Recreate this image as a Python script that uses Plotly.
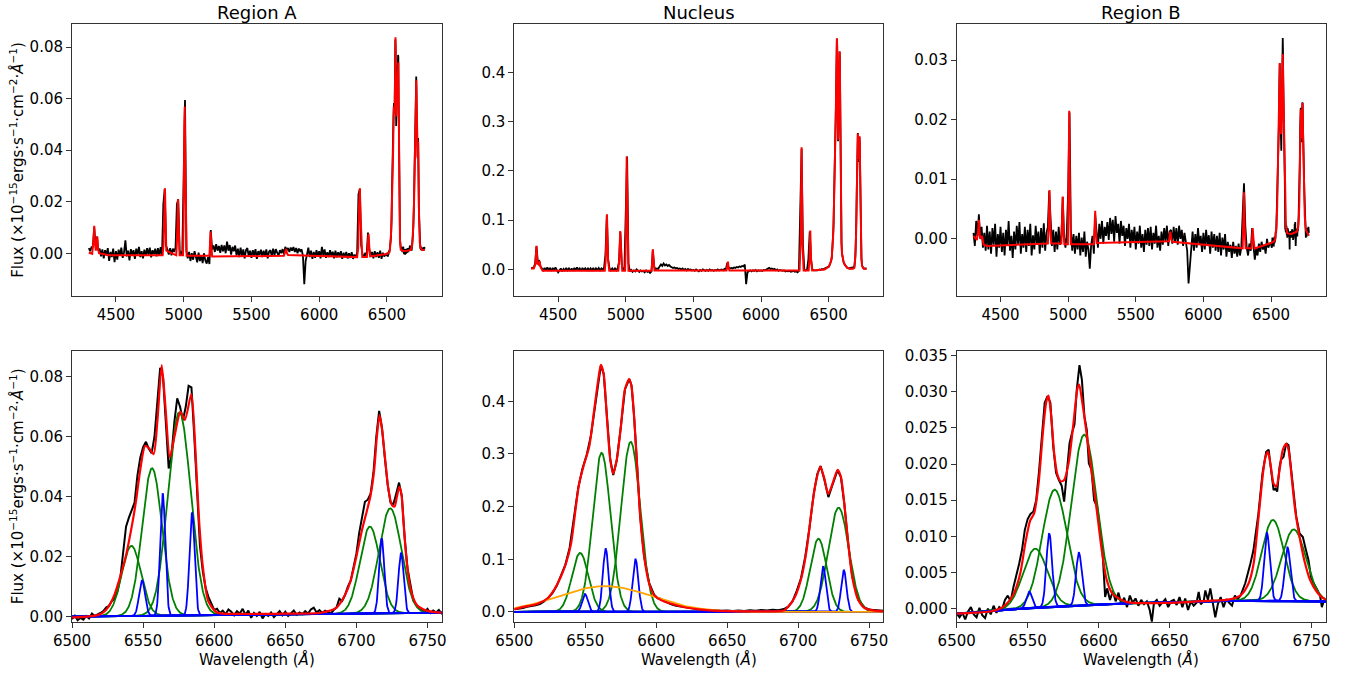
import numpy as np
import plotly.graph_objects as go

FONT = "DejaVu Sans"

# ================= DATA =================
# Top panels: observed spectra sampled every 10 A from 4300 A (values in 1e-15 erg/s/cm2/A)
A_top_obs = [
    0.0020, 0.0008, 0.0024, 0.0025, 0.0100, 0.0030, 0.0065, 0.0010, 0.0018, -0.0012,
    0.0015, -0.0020, 0.0012, -0.0008, 0.0020, -0.0030, 0.0005, -0.0015, 0.0018, -0.0035,
    0.0008, -0.0025, 0.0014, -0.0010, 0.0022, -0.0018, 0.0004, 0.0050, -0.0012, 0.0010,
    -0.0028, 0.0016, -0.0008, 0.0012, -0.0022, 0.0018, -0.0005, 0.0025, -0.0015, 0.0008,
    -0.0020, 0.0014, -0.0010, 0.0020, -0.0006, 0.0022, -0.0016, 0.0012, -0.0004, 0.0018,
    -0.0012, 0.0020, -0.0008, 0.0024, -0.0010, 0.0190, 0.0250, 0.0030, 0.0015, -0.0005,
    0.0020, -0.0008, 0.0018, 0.0005, 0.0022, 0.0190, 0.0210, 0.0015, -0.0010, 0.0010,
    0.0300, 0.0595, 0.0010, -0.0020, 0.0005, -0.0030, 0.0000, -0.0025, 0.0008, -0.0018,
    -0.0035, 0.0002, -0.0030, -0.0010, -0.0038, 0.0000, -0.0028, -0.0040, -0.0015, -0.0042,
    0.0090, 0.0015, 0.0030, 0.0005, 0.0035, 0.0010, 0.0028, 0.0002, 0.0032, 0.0008,
    0.0030, 0.0000, 0.0045, 0.0010, 0.0032, -0.0005, 0.0025, 0.0008, 0.0030, -0.0008,
    0.0018, -0.0015, 0.0022, -0.0010, 0.0015, -0.0020, 0.0012, 0.0020, -0.0012, 0.0010,
    -0.0018, 0.0012, -0.0008, 0.0016, -0.0022, 0.0008, -0.0006, 0.0014, -0.0015, 0.0010,
    -0.0010, 0.0015, -0.0020, 0.0006, 0.0012, -0.0012, 0.0018, -0.0008, 0.0016, 0.0002,
    -0.0010, 0.0012, 0.0000, 0.0016, -0.0004, 0.0025, 0.0012, 0.0020, 0.0005, 0.0022,
    0.0010, 0.0024, 0.0005, 0.0020, 0.0000, 0.0018, 0.0008, 0.0015, -0.0010, -0.0120,
    -0.0030, -0.0005, 0.0022, -0.0015, 0.0010, -0.0022, 0.0005, -0.0018, 0.0012, -0.0012,
    0.0008, -0.0020, 0.0025, -0.0008, 0.0015, -0.0018, 0.0004, -0.0015, 0.0012, -0.0010,
    0.0006, -0.0020, 0.0010, -0.0016, 0.0004, -0.0012, 0.0008, -0.0022, 0.0002, -0.0015,
    0.0005, -0.0020, 0.0000, -0.0018, 0.0004, -0.0022, -0.0005, -0.0016, 0.0002, 0.0230,
    0.0250, 0.0030, -0.0005, -0.0015, 0.0002, -0.0010, 0.0080, 0.0015, -0.0012, 0.0005,
    -0.0020, 0.0008, -0.0015, 0.0004, -0.0018, 0.0010, -0.0022, 0.0002, -0.0012, -0.0005,
]
N_top_obs = [
    0.002, 0.003, 0.004, 0.012, 0.047, 0.015, 0.017, 0.006, 0.001, -0.002,
    0.003, -0.002, 0.004, -0.001, 0.002, -0.003, 0.003, -0.002, 0.004, -0.003,
    -0.006, -0.002, 0.002, -0.004, 0.001, -0.003, 0.003, -0.002, 0.002, -0.003,
    0.002, -0.003, 0.003, -0.001, 0.004, -0.002, 0.002, -0.003, 0.003, -0.001,
    0.002, -0.003, 0.003, -0.002, 0.002, -0.002, 0.003, -0.003, 0.002, -0.001,
    0.003, -0.002, 0.002, -0.001, 0.004, 0.030, 0.110, 0.020, 0.002, -0.002,
    0.002, -0.003, 0.003, -0.002, 0.002, 0.015, 0.076, 0.010, -0.002, 0.001,
    0.120, 0.229, 0.012, -0.004, -0.001, -0.005, -0.002, -0.004, 0.000, -0.003,
    -0.005, -0.002, -0.004, -0.003, -0.006, -0.002, -0.005, -0.004, -0.007, -0.004,
    0.038, 0.006, 0.000, 0.002, 0.001, 0.006, 0.010, 0.007, 0.012, 0.008,
    0.010, 0.007, 0.009, 0.006, 0.004, 0.003, 0.004, 0.002, 0.003, 0.001,
    0.002, 0.000, 0.002, -0.001, 0.001, -0.002, 0.001, -0.001, 0.000, -0.002,
    -0.001, -0.003, 0.000, -0.002, -0.004, -0.001, -0.003, 0.000, -0.002, -0.003,
    -0.001, -0.003, 0.000, -0.002, -0.001, -0.003, -0.001, -0.002, 0.000, -0.002,
    -0.001, 0.000, -0.002, 0.001, 0.000, 0.013, 0.004, 0.002, 0.003, 0.002,
    0.004, 0.003, 0.005, 0.004, 0.006, 0.005, 0.007, 0.006, 0.010, -0.030,
    -0.006, -0.003, -0.002, -0.004, -0.002, -0.003, -0.001, -0.004, -0.002, -0.003,
    -0.002, -0.003, -0.001, -0.002, 0.000, 0.002, 0.003, 0.001, 0.002, 0.000,
    0.001, -0.002, 0.000, -0.003, -0.001, -0.002, -0.003, -0.002, -0.004, -0.003,
    -0.004, -0.003, -0.005, -0.004, -0.003, -0.005, -0.004, -0.006, -0.003, 0.120,
    0.245, 0.050, 0.000, -0.002, -0.001, 0.020, 0.077, 0.020, -0.001, -0.002,
    -0.002, -0.001, -0.002, 0.000, -0.001, 0.001, 0.000, 0.002, 0.003, 0.004,
]
B_top_obs = [
    0.0010, -0.0012, 0.0030, 0.0005, 0.0041, 0.0000, 0.0020, -0.0015, 0.0010, -0.0020,
    0.0022, -0.0018, 0.0012, -0.0025, 0.0018, -0.0010, 0.0025, -0.0030, 0.0008, -0.0015,
    0.0020, -0.0022, 0.0010, -0.0028, 0.0015, -0.0012, 0.0030, -0.0020, 0.0005, -0.0032,
    0.0012, -0.0018, 0.0022, -0.0010, 0.0028, -0.0025, 0.0008, -0.0015, 0.0020, -0.0022,
    0.0015, -0.0012, 0.0025, -0.0028, 0.0006, -0.0018, 0.0022, -0.0010, 0.0012, -0.0025,
    0.0018, -0.0015, 0.0026, -0.0020, 0.0010, 0.0020, 0.0080, 0.0040, -0.0012, 0.0015,
    -0.0022, 0.0012, -0.0018, 0.0020, -0.0010, 0.0005, 0.0070, 0.0002, -0.0015, 0.0010,
    0.0080, 0.0212, 0.0015, -0.0020, 0.0008, -0.0025, 0.0005, -0.0018, 0.0010, -0.0028,
    0.0002, -0.0022, 0.0012, -0.0030, -0.0005, -0.0018, -0.0050, -0.0010, 0.0005, -0.0025,
    0.0040, 0.0012, -0.0015, 0.0025, 0.0000, 0.0030, -0.0008, 0.0020, 0.0005, 0.0028,
    -0.0002, 0.0035, 0.0008, 0.0032, -0.0005, 0.0038, 0.0010, 0.0025, -0.0008, 0.0030,
    0.0005, 0.0022, -0.0012, 0.0018, 0.0000, 0.0025, -0.0015, 0.0015, -0.0005, 0.0020,
    -0.0018, 0.0012, -0.0008, 0.0022, -0.0015, 0.0008, -0.0022, 0.0015, -0.0010, 0.0018,
    -0.0012, 0.0020, -0.0018, 0.0010, -0.0008, 0.0022, -0.0015, 0.0005, -0.0020, 0.0012,
    -0.0010, 0.0018, -0.0005, 0.0022, -0.0012, 0.0012, 0.0015, -0.0008, 0.0020, -0.0005,
    0.0018, -0.0010, 0.0022, 0.0000, 0.0015, -0.0012, 0.0010, -0.0005, -0.0020, -0.0075,
    -0.0040, -0.0012, 0.0012, -0.0020, 0.0008, -0.0015, 0.0018, -0.0010, 0.0005, -0.0022,
    0.0010, -0.0018, 0.0015, -0.0012, 0.0006, -0.0025, 0.0012, -0.0015, 0.0008, -0.0020,
    0.0005, -0.0022, 0.0010, -0.0028, 0.0002, -0.0018, 0.0008, -0.0030, -0.0005, -0.0022,
    -0.0010, -0.0032, -0.0005, -0.0025, -0.0012, -0.0030, -0.0008, -0.0028, -0.0015, 0.0040,
    0.0093, 0.0020, -0.0015, -0.0028, -0.0008, -0.0020, 0.0018, -0.0012, -0.0035, -0.0015,
    -0.0028, -0.0008, -0.0022, -0.0005, -0.0018, -0.0010, -0.0025, 0.0000, -0.0015, -0.0008,
]

# Top panels: fitted model (blue side of the spectrum, 4300-6480 A)
A_top_fit_wl = [4300, 4325, 4333, 4340, 4347, 4352, 4358, 4363, 4368, 4375, 4450, 4845, 4852, 4858,
                4862, 4866, 4872, 4945, 4952, 4958, 4964, 4970, 4995, 5000, 5005, 5008, 5012, 5018,
                5022, 5190, 5194, 5199, 5203, 5207, 5210, 5740, 5750, 5756, 5762, 5770, 6280, 6288,
                6294, 6300, 6305, 6312, 6318, 6352, 6358, 6364, 6370, 6376]
A_top_fit = [0.0003, -0.0002, 0.0040, 0.0107, 0.0030, 0.0010, 0.0040, 0.0065, 0.0020, 0.0000,
             -0.0008, -0.0008, 0.0040, 0.0180, 0.0252, 0.0150, 0.0010, -0.0008, 0.0060, 0.0210,
             0.0060, -0.0008, -0.0008, 0.0150, 0.0500, 0.0570, 0.0350, 0.0020, -0.0010, -0.0010,
             0.0040, 0.0084, 0.0040, -0.0013, -0.0013, -0.0010, 0.0008, 0.0017, 0.0000, -0.0007,
             -0.0015, 0.0020, 0.0180, 0.0252, 0.0150, 0.0010, -0.0015, -0.0015, 0.0030, 0.0075,
             0.0020, -0.0012]
N_top_fit_wl = [4300, 4320, 4332, 4340, 4347, 4355, 4363, 4370, 4385, 4845, 4852, 4861, 4869, 4878,
                4945, 4952, 4959, 4966, 4974, 4995, 5001, 5007, 5013, 5020, 5190, 5195, 5200, 5205,
                5212, 5745, 5750, 5755, 5760, 5766, 6285, 6292, 6300, 6307, 6315, 6352, 6358, 6364,
                6370, 6378, 6470]
N_top_fit = [0.002, 0.002, 0.010, 0.048, 0.012, 0.010, 0.017, 0.005, -0.003, -0.003, 0.020, 0.112,
             0.020, -0.003, -0.003, 0.020, 0.078, 0.020, -0.003, -0.003, 0.060, 0.229, 0.060, -0.003,
             -0.003, 0.010, 0.041, 0.010, -0.002, -0.002, 0.004, 0.0156, 0.004, -0.002, -0.002, 0.050,
             0.248, 0.050, -0.002, -0.002, 0.020, 0.079, 0.020, -0.002, 0.000]
B_top_fit_wl = [4300, 4325, 4333, 4340, 4347, 4355, 4363, 4375, 4400, 4850, 4856, 4862, 4868, 4875,
                4950, 4955, 4960, 4966, 4972, 4998, 5003, 5008, 5013, 5020, 5190, 5195, 5200, 5205,
                5212, 5745, 5750, 5756, 5762, 5770, 6290, 6295, 6300, 6305, 6312, 6355, 6360, 6364,
                6370, 6378]
B_top_fit = [0.0005, -0.0002, 0.0010, 0.0032, 0.0005, 0.0000, 0.0005, -0.0010, -0.0012, -0.0008,
             0.0020, 0.0082, 0.0020, -0.0008, -0.0008, 0.0020, 0.0071, 0.0010, -0.0009, -0.0009,
             0.0080, 0.0215, 0.0080, -0.0009, -0.0009, 0.0010, 0.0047, 0.0010, -0.0007, -0.0004,
             0.0003, 0.0012, 0.0000, -0.0005, -0.0016, 0.0020, 0.0078, 0.0020, -0.0016, -0.0016,
             0.0000, 0.0018, 0.0000, -0.0016]

# H-alpha / [NII] / [SII] window: observed spectra
A_obs = [  # 2 A grid starting at 6500 A
    -0.0008, 0.0003, -0.0012, -0.0004, -0.0010, 0.0002, -0.0006, 0.0010, 0.0002, 0.0006,
    0.0012, 0.0018, 0.0030, 0.0036, 0.0052, 0.0060, 0.0085, 0.0130, 0.0210, 0.0300,
    0.0330, 0.0355, 0.0380, 0.0470, 0.0530, 0.0565, 0.0583, 0.0560, 0.0545, 0.0600,
    0.0720, 0.0830, 0.0800, 0.0640, 0.0494, 0.0540, 0.0650, 0.0728, 0.0700, 0.0655,
    0.0700, 0.0770, 0.0765, 0.0600, 0.0400, 0.0235, 0.0150, 0.0095, 0.0065, 0.0042,
    0.0022, 0.0026, 0.0012, 0.0020, 0.0008, 0.0024, 0.0016, 0.0004, 0.0018, 0.0010,
    0.0026, 0.0006, 0.0020, -0.0004, 0.0012, 0.0002, 0.0016, -0.0006, 0.0008, 0.0002,
    0.0014, -0.0002, 0.0010, 0.0018, 0.0004, 0.0016, 0.0002, 0.0012, 0.0020, 0.0006,
    0.0014, 0.0008, 0.0018, 0.0010, 0.0024, 0.0030, 0.0014, 0.0022, 0.0012, 0.0020,
    0.0016, 0.0010, 0.0022, 0.0030, 0.0060, 0.0052, 0.0072, 0.0100, 0.0120, 0.0160,
    0.0210, 0.0280, 0.0330, 0.0383, 0.0390, 0.0410, 0.0480, 0.0600, 0.0686, 0.0630,
    0.0530, 0.0440, 0.0380, 0.0375, 0.0410, 0.0447, 0.0400, 0.0260, 0.0160, 0.0100,
    0.0055, 0.0040, 0.0028, 0.0022, 0.0016, 0.0026, 0.0012, 0.0020, 0.0014, 0.0022,
    0.0010, 0.0018, 0.0012, 0.0022, 0.0016, 0.0020, 0.0014, 0.0024, 0.0016, 0.0020,
    0.0018,
]
N_obs_wl = [6500, 6503, 6506, 6509, 6512, 6515, 6518, 6521, 6524, 6527, 6530, 6533, 6536, 6539,
            6542, 6545, 6548, 6551, 6554, 6557, 6559, 6561, 6563, 6565.2, 6567.6, 6569.7, 6572.2,
            6575, 6578, 6581, 6582.6, 6584.4, 6586.3, 6588.7, 6591.5, 6595, 6598.5, 6601, 6603,
            6605, 6607, 6610, 6614, 6618, 6622, 6626, 6630, 6634, 6638, 6642, 6646, 6650, 6654,
            6658, 6662, 6666, 6670, 6674, 6678, 6682, 6686, 6690, 6693, 6696, 6699, 6702, 6705,
            6708, 6711, 6713.5, 6715.8, 6718.4, 6721.3, 6724.3, 6727.8, 6730.1, 6732.5, 6735.3,
            6738.1, 6742.3, 6747, 6751, 6755, 6760, 6770, 6780]
N_obs = [0.0050, 0.0060, 0.0075, 0.0100, 0.0110, 0.0125, 0.0150, 0.0200, 0.0270, 0.0360, 0.0500,
         0.0700, 0.0900, 0.1220, 0.1750, 0.2350, 0.2720, 0.2980, 0.3350, 0.3950, 0.4380, 0.4680,
         0.4520, 0.3720, 0.2900, 0.2600, 0.2880, 0.3500, 0.4230, 0.4420, 0.4300, 0.3720, 0.2900,
         0.1820, 0.1050, 0.0550, 0.0330, 0.0260, 0.0250, 0.0220, 0.0180, 0.0150, 0.0120, 0.0100,
         0.0085, 0.0065, 0.0050, 0.0040, 0.0030, 0.0028, 0.0022, 0.0030, 0.0018, 0.0026, 0.0020,
         0.0032, 0.0024, 0.0036, 0.0030, 0.0042, 0.0034, 0.0055, 0.0100, 0.0200, 0.0400, 0.0640,
         0.1050, 0.1600, 0.2250, 0.2620, 0.2770, 0.2520, 0.2180, 0.2420, 0.2690, 0.2560, 0.2060,
         0.1300, 0.0670, 0.0230, 0.0080, 0.0040, 0.0028, 0.0022, 0.0020, 0.0018]
B_obs_wl = [6500, 6502, 6504, 6506, 6508, 6510, 6512, 6514, 6516, 6518, 6520, 6522, 6524, 6526,
            6528, 6530, 6532, 6534, 6536, 6538, 6540, 6542, 6544, 6546, 6548, 6550, 6552, 6554,
            6556, 6558, 6560, 6562, 6564, 6566, 6568, 6570, 6572, 6574, 6575.7, 6577, 6579.5,
            6581.5, 6583, 6584.6, 6586.5, 6588.2, 6590, 6591.7, 6593.1, 6595, 6596.8, 6599,
            6601.1, 6602.7, 6604.6, 6606, 6608, 6610, 6612, 6614, 6616, 6618, 6620, 6622, 6624,
            6626, 6628, 6630, 6632, 6634, 6636, 6637.5, 6639, 6641, 6643, 6645, 6647, 6649, 6651,
            6653, 6655, 6657, 6659, 6661, 6663, 6665, 6667, 6669, 6670.5, 6672, 6674, 6675.2,
            6677, 6678.7, 6680.5, 6682.2, 6684, 6686, 6688, 6690, 6692, 6694, 6696, 6698, 6700,
            6703.3, 6706.9, 6709, 6712.5, 6715.5, 6718.1, 6719.8, 6721.3, 6723.3, 6724.5, 6725.8,
            6727.5, 6728.5, 6730.3, 6732.2, 6733.8, 6735.5, 6737.3, 6739.2, 6741.6, 6743.9,
            6745.6, 6747.9, 6749.6, 6751.5, 6754.3, 6756, 6757.3, 6758.5, 6760, 6764, 6768, 6772,
            6776, 6780]
B_obs = [-0.0007, -0.0012, -0.0006, -0.0015, -0.0004, 0.0002, -0.0008, -0.0012, 0.0001, -0.0009,
         -0.0013, 0.0000, -0.0008, 0.0004, -0.0006, 0.0002, -0.0001, 0.0012, 0.0018, 0.0010,
         0.0030, 0.0045, 0.0062, 0.0081, 0.0109, 0.0124, 0.0131, 0.0134, 0.0150, 0.0190,
         0.0240, 0.0285, 0.0294, 0.0285, 0.0225, 0.0188, 0.0178, 0.0170, 0.0148, 0.0178,
         0.0229, 0.0245, 0.0255, 0.0303, 0.0337, 0.0317, 0.0266, 0.0247, 0.0201, 0.0192,
         0.0150, 0.0141, 0.0104, 0.0081, 0.0016, 0.0028, 0.0012, 0.0024, 0.0010, 0.0022,
         0.0006, 0.0015, 0.0002, 0.0018, 0.0008, 0.0014, 0.0004, 0.0012, 0.0006, 0.0010,
         -0.0002, -0.0018, 0.0008, 0.0012, 0.0004, 0.0009, 0.0013, 0.0002, 0.0010, 0.0012,
         0.0005, 0.0016, 0.0002, 0.0014, -0.0002, 0.0010, 0.0004, 0.0008, 0.0023, 0.0006,
         0.0010, 0.0025, 0.0012, 0.0028, 0.0006, -0.0012, 0.0006, 0.0016, 0.0002, 0.0013,
         0.0008, 0.0004, 0.0018, 0.0013, 0.0018, 0.0035, 0.0062, 0.0080, 0.0130, 0.0188,
         0.0217, 0.0220, 0.0195, 0.0164, 0.0166, 0.0162, 0.0196, 0.0206, 0.0210, 0.0229,
         0.0226, 0.0196, 0.0155, 0.0128, 0.0104, 0.0099, 0.0085, 0.0067, 0.0044, 0.0035,
         0.0025, 0.0018, 0.0002, 0.0010, 0.0012, 0.0004, 0.0018, 0.0008, 0.0020, 0.0010]

# H-alpha / [NII] / [SII] window: total fitted model
A_fit_wl = [6500, 6510, 6518, 6522, 6526, 6530, 6534, 6538, 6542, 6545, 6548, 6551.5, 6554.5,
            6557.4, 6560, 6563.1, 6565.7, 6568.8, 6572, 6576.3, 6579.4, 6583.9, 6586.8, 6589.2,
            6592, 6596, 6602, 6620, 6650, 6675, 6686, 6692, 6696, 6700, 6704, 6707.5, 6710,
            6712.5, 6714.4, 6716.3, 6718.1, 6720.3, 6722.6, 6725, 6726.8, 6728.5, 6730.2, 6731.6,
            6733.2, 6735.5, 6738.3, 6742.5, 6749.6, 6760, 6780]
A_fit = [-0.0003, 0.0000, 0.0005, 0.0014, 0.0035, 0.0075, 0.0135, 0.0205, 0.0300, 0.0385, 0.0490,
         0.0570, 0.0560, 0.0542, 0.0650, 0.0839, 0.0700, 0.0531, 0.0600, 0.0683, 0.0656, 0.0742,
         0.0556, 0.0333, 0.0167, 0.0050, 0.0014, 0.0009, 0.0010, 0.0013, 0.0030, 0.0072, 0.0120,
         0.0200, 0.0290, 0.0355, 0.0405, 0.0489, 0.0600, 0.0672, 0.0622, 0.0522, 0.0422, 0.0372,
         0.0367, 0.0400, 0.0433, 0.0411, 0.0311, 0.0178, 0.0089, 0.0039, 0.0020, 0.0013, 0.0013]
N_fit_wl = [6500, 6509, 6516, 6523.5, 6528, 6532.8, 6536.4, 6540, 6543.4, 6545.7, 6549.3, 6552.8,
            6556.3, 6559.1, 6561, 6562.9, 6565.2, 6567.6, 6569.7, 6572.2, 6575.1, 6577.9, 6580.9,
            6582.6, 6584.4, 6586.3, 6588.7, 6591.5, 6595, 6598.5, 6603, 6610, 6620, 6630, 6640,
            6660, 6680, 6690, 6693, 6697.8, 6702.5, 6706, 6709.5, 6712.3, 6715.6, 6718.4, 6721.2,
            6724.3, 6727.8, 6730.1, 6732.5, 6735.3, 6738.1, 6742.3, 6747, 6754, 6760, 6780]
N_fit = [0.0050, 0.0110, 0.0150, 0.0260, 0.0420, 0.0670, 0.0920, 0.1300, 0.2000, 0.2440, 0.2820,
         0.3140, 0.3840, 0.4400, 0.4690, 0.4530, 0.3710, 0.2890, 0.2630, 0.2890, 0.3520, 0.4220,
         0.4420, 0.4280, 0.3710, 0.2890, 0.1810, 0.1050, 0.0540, 0.0320, 0.0230, 0.0160, 0.0090,
         0.0050, 0.0025, 0.0012, 0.0012, 0.0030, 0.0100, 0.0290, 0.0670, 0.1180, 0.1940, 0.2440,
         0.2760, 0.2540, 0.2240, 0.2440, 0.2700, 0.2570, 0.2060, 0.1300, 0.0670, 0.0230, 0.0070,
         0.0025, 0.0013, 0.0010]
B_fit_wl = [6500, 6510, 6523.7, 6530.7, 6535.4, 6540.1, 6544.8, 6548.3, 6551.8, 6554.6, 6557.7,
            6560.7, 6563.1, 6564.7, 6566.6, 6568.7, 6571, 6573.4, 6575.7, 6578.8, 6582.3, 6585.1,
            6586.3, 6588.6, 6591.7, 6595.2, 6598.7, 6602.2, 6605.8, 6610, 6620, 6650, 6680, 6690,
            6699.8, 6705.7, 6709.2, 6712.7, 6715.8, 6717.6, 6719.3, 6721.4, 6723.3, 6725.2, 6727.5,
            6729.8, 6732.2, 6733.8, 6736.2, 6738.5, 6741.6, 6744.9, 6749.1, 6753.8, 6758.5, 6780]
B_fit = [-0.0007, -0.0006, -0.0004, 0.0000, 0.0007, 0.0020, 0.0049, 0.0090, 0.0122, 0.0132, 0.0173,
         0.0243, 0.0286, 0.0295, 0.0266, 0.0215, 0.0185, 0.0176, 0.0178, 0.0201, 0.0257, 0.0305,
         0.0310, 0.0284, 0.0240, 0.0187, 0.0136, 0.0081, 0.0039, 0.0020, 0.0009, 0.0008, 0.0011,
         0.0012, 0.0018, 0.0035, 0.0062, 0.0127, 0.0187, 0.0210, 0.0217, 0.0196, 0.0173, 0.0169,
         0.0192, 0.0220, 0.0228, 0.0220, 0.0178, 0.0136, 0.0099, 0.0067, 0.0039, 0.0023, 0.0014,
         0.0005]

# Gaussian components: centre (A), peak height, sigma (A)
A_green_c = [6541.8, 6556.3, 6575.5, 6709.5, 6723.8]
A_green_a = [0.0234, 0.0492, 0.0678, 0.0290, 0.0350]
A_green_s = [6.7, 7.0, 8.0, 7.0, 7.8]
A_blue_c = [6549.3, 6563.8, 6584.4, 6717.8, 6731.4]
A_blue_a = [0.0118, 0.0408, 0.0342, 0.0250, 0.0200]
A_blue_s = [2.1, 1.8, 1.8, 1.8, 1.8]
A_cont = [0.0, 5.0e-6, 0.0]          # continuum under the components

N_green_c = [6546.4, 6561.5, 6582.0, 6714.3, 6728.5]
N_green_a = [0.112, 0.302, 0.323, 0.139, 0.198]
N_green_s = [5.8, 6.3, 6.8, 5.8, 7.2]
N_blue_c = [6549.8, 6564.4, 6585.4, 6717.6, 6732.2]
N_blue_a = [0.034, 0.120, 0.100, 0.086, 0.079]
N_blue_s = [2.0, 2.0, 2.0, 1.9, 1.9]
N_broad_c, N_broad_a, N_broad_s = 6564.0, 0.049, 33.0
N_cont = [0.0, 0.0, 0.0]

B_green_c = [6555.3, 6569.0, 6589.8, 6722.8, 6737.5]
B_green_a = [0.0082, 0.0162, 0.0236, 0.0112, 0.0099]
B_green_s = [8.5, 8.8, 9.0, 7.8, 8.5]
B_blue_c = [6551.1, 6565.2, 6586.1, 6718.6, 6733.1]
B_blue_a = [0.0023, 0.0102, 0.0073, 0.0094, 0.0074]
B_blue_s = [2.0, 2.0, 2.0, 2.0, 2.0]
B_cont = [-0.0007, 1.654e-5, -3.846e-8]

titles = ["Region A", "Nucleus", "Region B"]
top_xticks = [4500, 5000, 5500, 6000, 6500]
bot_xticks = [6500, 6550, 6600, 6650, 6700, 6750]
A_yticks = [0.00, 0.02, 0.04, 0.06, 0.08]
N_yticks = [0.0, 0.1, 0.2, 0.3, 0.4]
B_top_yticks = [0.00, 0.01, 0.02, 0.03]
B_bot_yticks = [0.000, 0.005, 0.010, 0.015, 0.020, 0.025, 0.030, 0.035]

# ================= FIGURE =================
W, H = 1353, 675
cols_px = [(72.0, 441.7), (514.3, 883.3), (956.7, 1325.7)]
rows_px = [(24.3, 296.0), (350.7, 622.3)]

fig = go.Figure()

top_grid = lambda obs: list(np.arange(4300, 4300 + 10 * len(obs), 10))
wl_fine = np.arange(6500.0, 6780.25, 0.25)


def cont(c, wl):
    t = wl - 6500.0
    return c[0] + c[1] * t + c[2] * t * t


def gauss(wl, c, a, s):
    return a * np.exp(-0.5 * ((wl - c) / s) ** 2)


panels = [
    dict(top_obs=A_top_obs, top_fit_wl=A_top_fit_wl, top_fit=A_top_fit,
         obs_wl=list(np.arange(6500, 6500 + 2 * len(A_obs), 2)), obs=A_obs,
         fit_wl=A_fit_wl, fit=A_fit, gc=A_green_c, ga=A_green_a, gs=A_green_s,
         bc=A_blue_c, ba=A_blue_a, bs=A_blue_s, cont=A_cont, broad=None,
         top_range=[-0.0166, 0.0889], bot_range=[-0.0019, 0.0887],
         top_yt=A_yticks, bot_yt=A_yticks, top_fmt=".2f", bot_fmt=".2f"),
    dict(top_obs=N_top_obs, top_fit_wl=N_top_fit_wl, top_fit=N_top_fit,
         obs_wl=N_obs_wl, obs=N_obs, fit_wl=N_fit_wl, fit=N_fit,
         gc=N_green_c, ga=N_green_a, gs=N_green_s, bc=N_blue_c, ba=N_blue_a, bs=N_blue_s,
         cont=N_cont, broad=(N_broad_c, N_broad_a, N_broad_s),
         top_range=[-0.054, 0.4975], bot_range=[-0.0196, 0.496],
         top_yt=N_yticks, bot_yt=N_yticks, top_fmt=".1f", bot_fmt=".1f"),
    dict(top_obs=B_top_obs, top_fit_wl=B_top_fit_wl, top_fit=B_top_fit,
         obs_wl=B_obs_wl, obs=B_obs, fit_wl=B_fit_wl, fit=B_fit,
         gc=B_green_c, ga=B_green_a, gs=B_green_s, bc=B_blue_c, ba=B_blue_a, bs=B_blue_s,
         cont=B_cont, broad=None,
         top_range=[-0.0096, 0.0360], bot_range=[-0.0019, 0.0357],
         top_yt=B_top_yticks, bot_yt=B_bot_yticks, top_fmt=".2f", bot_fmt=".3f"),
]

axis_common = dict(showline=True, mirror=True, linecolor="#333333", linewidth=1,
                   ticks="outside", ticklen=5, tickwidth=1, tickcolor="#333333",
                   showgrid=False, zeroline=False, automargin=False,
                   tickfont=dict(family=FONT, size=15, color="black"))

annotations = []
for j, p in enumerate(panels):
    k_top = j + 1
    k_bot = j + 4
    xa_t, ya_t = f"x{k_top}", f"y{k_top}"
    xa_b, ya_b = f"x{k_bot}", f"y{k_bot}"
    # ---- top panel: full spectrum ----
    top_wl = top_grid(p["top_obs"]) + list(p["obs_wl"])
    top_flux = list(p["top_obs"]) + list(p["obs"])
    fig.add_trace(go.Scatter(x=top_wl, y=top_flux, mode="lines",
                             line=dict(color="black", width=1.8), xaxis=xa_t, yaxis=ya_t,
                             showlegend=False, hoverinfo="skip"))
    fig.add_trace(go.Scatter(x=list(p["top_fit_wl"]) + list(p["fit_wl"]),
                             y=list(p["top_fit"]) + list(p["fit"]), mode="lines",
                             line=dict(color="red", width=2), xaxis=xa_t, yaxis=ya_t,
                             showlegend=False, hoverinfo="skip"))
    # ---- bottom panel: H-alpha window with components ----
    fig.add_trace(go.Scatter(x=p["obs_wl"], y=p["obs"], mode="lines",
                             line=dict(color="black", width=2), xaxis=xa_b, yaxis=ya_b,
                             showlegend=False, hoverinfo="skip"))
    base = cont(p["cont"], wl_fine)
    for c, a, s in zip(p["gc"], p["ga"], p["gs"]):
        fig.add_trace(go.Scatter(x=wl_fine, y=base + gauss(wl_fine, c, a, s), mode="lines",
                                 line=dict(color="green", width=1.8), xaxis=xa_b, yaxis=ya_b,
                                 showlegend=False, hoverinfo="skip"))
    for c, a, s in zip(p["bc"], p["ba"], p["bs"]):
        fig.add_trace(go.Scatter(x=wl_fine, y=base + gauss(wl_fine, c, a, s), mode="lines",
                                 line=dict(color="blue", width=1.8), xaxis=xa_b, yaxis=ya_b,
                                 showlegend=False, hoverinfo="skip"))
    if p["broad"] is not None:
        c, a, s = p["broad"]
        fig.add_trace(go.Scatter(x=wl_fine, y=base + gauss(wl_fine, c, a, s), mode="lines",
                                 line=dict(color="orange", width=1.8), xaxis=xa_b, yaxis=ya_b,
                                 showlegend=False, hoverinfo="skip"))
    fig.add_trace(go.Scatter(x=p["fit_wl"], y=p["fit"], mode="lines",
                             line=dict(color="red", width=2.2, shape="spline", smoothing=0.7),
                             xaxis=xa_b, yaxis=ya_b, showlegend=False, hoverinfo="skip"))

    x0, x1 = cols_px[j]
    for k, (r, xr, xt, yr, yt, fmt) in enumerate([
            (rows_px[0], [4176, 6904], top_xticks, p["top_range"], p["top_yt"], p["top_fmt"]),
            (rows_px[1], [6500, 6760], bot_xticks, p["bot_range"], p["bot_yt"], p["bot_fmt"])]):
        idx = j + 1 + 3 * k
        xname = "xaxis" if idx == 1 else f"xaxis{idx}"
        yname = "yaxis" if idx == 1 else f"yaxis{idx}"
        fig.layout[xname] = dict(axis_common, domain=[x0 / W, x1 / W], range=xr,
                                 tickvals=xt, anchor=f"y{idx}")
        fig.layout[yname] = dict(axis_common, domain=[1 - r[1] / H, 1 - r[0] / H], range=yr,
                                 tickvals=yt, ticktext=[format(v, fmt) for v in yt],
                                 anchor=f"x{idx}")

    annotations.append(dict(text=titles[j], x=(x0 + x1) / 2 / W, y=1 - 12.7 / H,
                            xref="paper", yref="paper", xanchor="center", yanchor="middle",
                            showarrow=False, font=dict(family=FONT, size=18, color="black")))
    annotations.append(dict(text="Wavelength (<i>Å</i>)", x=(x0 + x1) / 2 / W, y=1 - 659 / H,
                            xref="paper", yref="paper", xanchor="center", yanchor="middle",
                            showarrow=False, font=dict(family=FONT, size=15, color="black")))

ylab = "Flux (×10<sup>−15</sup>ergs·s<sup>−1</sup>·cm<sup>−2</sup>·<i>Å</i><sup>−1</sup>)"
for r in rows_px:
    annotations.append(dict(text=ylab, x=16.7 / W, y=1 - (r[0] + r[1]) / 2 / H,
                            xref="paper", yref="paper", xanchor="center", yanchor="middle",
                            textangle=-90, showarrow=False,
                            font=dict(family=FONT, size=15, color="black")))

fig.update_layout(width=W, height=H, margin=dict(l=0, r=0, t=0, b=0, autoexpand=False),
                  plot_bgcolor="white", paper_bgcolor="white", showlegend=False,
                  hovermode=False, annotations=annotations,
                  font=dict(family=FONT, color="black"))

# the page's default 8 px body margin would push the figure off its 1353x675 window
fig.write_html("out.html", config={"displayModeBar": False, "staticPlot": True},
               post_script="document.body.style.margin='0';document.body.style.overflow='hidden';")
